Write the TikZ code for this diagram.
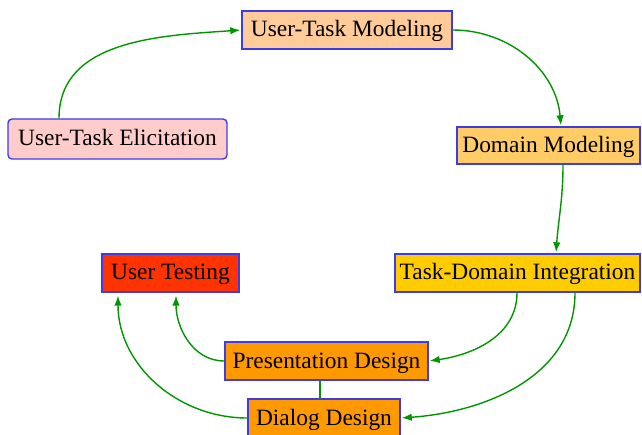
\documentclass[tikz,border=0pt]{standalone}
\usepackage{fontspec}
\setmainfont{Liberation Serif}
\usepackage{xcolor}
\usetikzlibrary{arrows.meta}

\definecolor{edgeblue}{RGB}{60,60,235}
\definecolor{flowgreen}{RGB}{0,150,0}
\definecolor{pinkfill}{RGB}{255,204,204}
\definecolor{peachfill}{RGB}{255,204,153}
\definecolor{sandfill}{RGB}{255,204,102}
\definecolor{goldfill}{RGB}{255,204,0}
\definecolor{redfill}{RGB}{255,51,0}
\definecolor{orangefill}{RGB}{255,153,0}

\begin{document}
\begin{tikzpicture}[x = 1pt,
y = -1pt,
box/.style = {draw=edgeblue, line width=1.4pt, inner sep=0pt,
  text height=19pt, text depth=5pt,
  font=\fontsize{23.4}{27}\selectfont},
flow/.style = {draw=flowgreen, line width=1.4pt,
  -{Latex[length=10pt,width=7.5pt]}, shorten >=1pt},
link/.style = {draw=flowgreen, line width=1.4pt}]
\useasboundingbox (0,0) rectangle (642,435);

\node[box, fill=pinkfill, rounded corners=4pt, minimum width=219pt, minimum height=40pt] (elicit) at (117.5,139) {User-Task Elicitation};
\node[box, fill=peachfill, minimum width=210pt, minimum height=38pt] (usermod) at (347,30) {User-Task Modeling};
\node[box, fill=sandfill, minimum width=183pt, minimum height=37pt] (dommod) at (548.5,145.5) {Domain Modeling};
\node[box, fill=goldfill, minimum width=245pt, minimum height=38pt] (integ) at (517.5,273) {Task-Domain Integration};
\node[box, fill=redfill, minimum width=137pt, minimum height=38pt] (testing) at (170.5,273) {User Testing};
\node[box, fill=orangefill, minimum width=203pt, minimum height=38pt] (present) at (326.5,361) {Presentation Design};
\node[box, fill=orangefill, minimum width=152pt, minimum height=38pt] (dialog) at (324,418) {Dialog Design};

\draw[flow] ([xshift=-58.5pt]elicit.north) to[out=90, in=184] (usermod.west);
\draw[flow] (usermod.east) to[out=0, in=95] ([xshift=12.5pt]dommod.north);
\draw[flow] ([xshift=14.5pt]dommod.south) to[out=-90, in=86] ([xshift=38.5pt]integ.north);

\draw[flow] ([xshift=-0.5pt]integ.south) to[out=-90, in=8] (present.east);
\draw[flow] ([xshift=57.5pt]integ.south) to[out=-90, in=4] (dialog.east);

\draw[flow] (present.west) to[out=180, in=-90] ([xshift=5.5pt,yshift=-2pt]testing.south);
\draw[flow] (dialog.west) to[out=180, in=-90] ([xshift=-52.5pt,yshift=-2pt]testing.south);

\draw[link] ([xshift=-6.5pt]present.south) -- ([xshift=-6.5pt]present.south |- dialog.north);
\end{tikzpicture}
\end{document}
